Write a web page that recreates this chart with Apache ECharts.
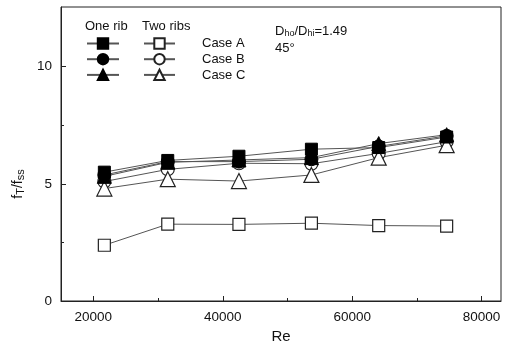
<!DOCTYPE html>
<html>
<head>
<meta charset="utf-8">
<script src="https://cdn.jsdelivr.net/npm/echarts@6/dist/echarts.min.js"></script>
<style>
  html, body { margin: 0; padding: 0; background: #fff; }
  #main { width: 509px; height: 344px; }
</style>
</head>
<body>
<div id="main"></div>
<script>
// Re values along the x axis
var reValues = [21700, 31500, 42500, 53700, 64100, 74600];

// one rib (filled markers)
var oneRibA = [5.5, 6.0, 6.18, 6.48, 6.55, 7.0];
var oneRibB = [5.38, 5.95, 5.95, 6.05, 6.6, 7.05];
var oneRibC = [5.32, 5.92, 6.02, 6.12, 6.72, 7.1];

// two ribs (open markers)
var twoRibsA = [2.38, 3.28, 3.27, 3.32, 3.22, 3.2];
var twoRibsB = [5.1, 5.62, 5.88, 5.86, 6.3, 6.8];
var twoRibsC = [4.8, 5.2, 5.12, 5.38, 6.12, 6.65];

var xTicks = [20000, 40000, 60000, 80000];
var xMinorTicks = [30000, 50000, 70000];
var yTicks = [0, 5, 10];
var yMinorTicks = [2.5, 7.5];

var caseNames = ['Case A', 'Case B', 'Case C'];

function pairs(vals) {
    var out = [];
    for (var i = 0; i < vals.length; i++) {
        out.push([reValues[i], vals[i]]);
    }
    return out;
}

var font = 'Liberation Sans';

function makeSeries(name, vals, symbol, size, filled) {
    return {
        name: name,
        type: 'line',
        data: pairs(vals),
        symbol: symbol,
        symbolSize: size,
        showSymbol: true,
        animation: false,
        lineStyle: { color: '#555', width: 1 },
        itemStyle: filled
            ? { color: '#000', borderColor: '#000', borderWidth: 1 }
            : { color: '#fff', borderColor: '#222', borderWidth: 1.2 },
        z: filled ? 3 : 2
    };
}

function txt(s, left, top) {
    return { text: s, left: left, top: top, textStyle: { fontFamily: font, fontSize: 13, fontWeight: 'normal', color: '#111' } };
}

var chart = echarts.init(document.getElementById('main'));

var option = {
    backgroundColor: '#fff',
    animation: false,
    textStyle: { fontFamily: font },
    grid: {
        left: 61, right: 8, top: 7, bottom: 43, containLabel: false, outerBoundsMode: 'none',
        show: true, borderColor: '#222', borderWidth: 1, backgroundColor: 'transparent'
    },
    title: [
        txt('One rib', 80, 15),
        txt('Two ribs', 137, 15),
        txt(caseNames[0], 197, 32),
        txt(caseNames[1], 197, 48),
        txt(caseNames[2], 197, 64),
        {
            text: 'D{s|ho}/D{s|hi}=1.49', left: 270, top: 19,
            textStyle: {
                fontFamily: font, fontSize: 13, fontWeight: 'normal', color: '#111',
                rich: { s: { fontFamily: font, fontSize: 9, color: '#111', padding: [5, 0, 0, 0] } }
            }
        },
        txt('45°', 270, 37)
    ],
    legend: [
        {
            data: ['One rib Case A', 'One rib Case B', 'One rib Case C'],
            orient: 'vertical', left: 81, top: 32,
            itemWidth: 32, itemHeight: 13, itemGap: 3,
            formatter: function () { return ''; },
            selectedMode: false
        },
        {
            data: ['Two ribs Case A', 'Two ribs Case B', 'Two ribs Case C'],
            orient: 'vertical', left: 138, top: 32,
            itemWidth: 31, itemHeight: 13, itemGap: 3,
            formatter: function () { return ''; },
            selectedMode: false
        }
    ],
    xAxis: [
        {
            type: 'value', min: 15000, max: 83000,
            name: 'Re', nameLocation: 'middle', nameGap: 24,
            nameTextStyle: { fontFamily: font, fontSize: 15, color: '#111' },
            axisLine: { lineStyle: { color: '#222' } },
            axisTick: { inside: true, length: 5, customValues: xTicks, lineStyle: { color: '#222' } },
            axisLabel: {
                customValues: xTicks, fontFamily: font, fontSize: 13.5, color: '#111', margin: 9,
                formatter: function (v) { return String(v); }
            },
            splitLine: { show: false }
        },
        {
            type: 'value', min: 15000, max: 83000, position: 'bottom',
            axisLine: { show: false },
            axisTick: { inside: true, length: 3, customValues: xMinorTicks, lineStyle: { color: '#222' } },
            axisLabel: { show: false },
            splitLine: { show: false }
        }
    ],
    yAxis: [
        {
            type: 'value', min: 0, max: 12.55,
            name: 'f{s|T}/f{s|ss}', nameLocation: 'middle', nameGap: 35, nameRotate: 90,
            nameTextStyle: {
                fontFamily: font, fontSize: 14, color: '#111', padding: [0, 60, 0, 0],
                rich: { s: { fontFamily: font, fontSize: 11, color: '#111', padding: [5, 0, 0, 0] } }
            },
            axisLine: { lineStyle: { color: '#222' } },
            axisTick: { inside: true, length: 5, customValues: yTicks, lineStyle: { color: '#222' } },
            axisLabel: { customValues: yTicks, fontFamily: font, fontSize: 13.5, color: '#111', margin: 9 },
            splitLine: { show: false }
        },
        {
            type: 'value', min: 0, max: 12.55, position: 'left',
            axisLine: { show: false },
            axisTick: { inside: true, length: 3, customValues: yMinorTicks, lineStyle: { color: '#222' } },
            axisLabel: { show: false },
            splitLine: { show: false }
        }
    ],
    series: [
        makeSeries('Two ribs Case A', twoRibsA, 'rect', 12, false),
        makeSeries('Two ribs Case B', twoRibsB, 'circle', 13, false),
        makeSeries('Two ribs Case C', twoRibsC, 'triangle', 15, false),
        makeSeries('One rib Case A', oneRibA, 'rect', 12, true),
        makeSeries('One rib Case B', oneRibB, 'circle', 13, true),
        makeSeries('One rib Case C', oneRibC, 'triangle', 14, true)
    ]
};

chart.setOption(option);
</script>
</body>
</html>
